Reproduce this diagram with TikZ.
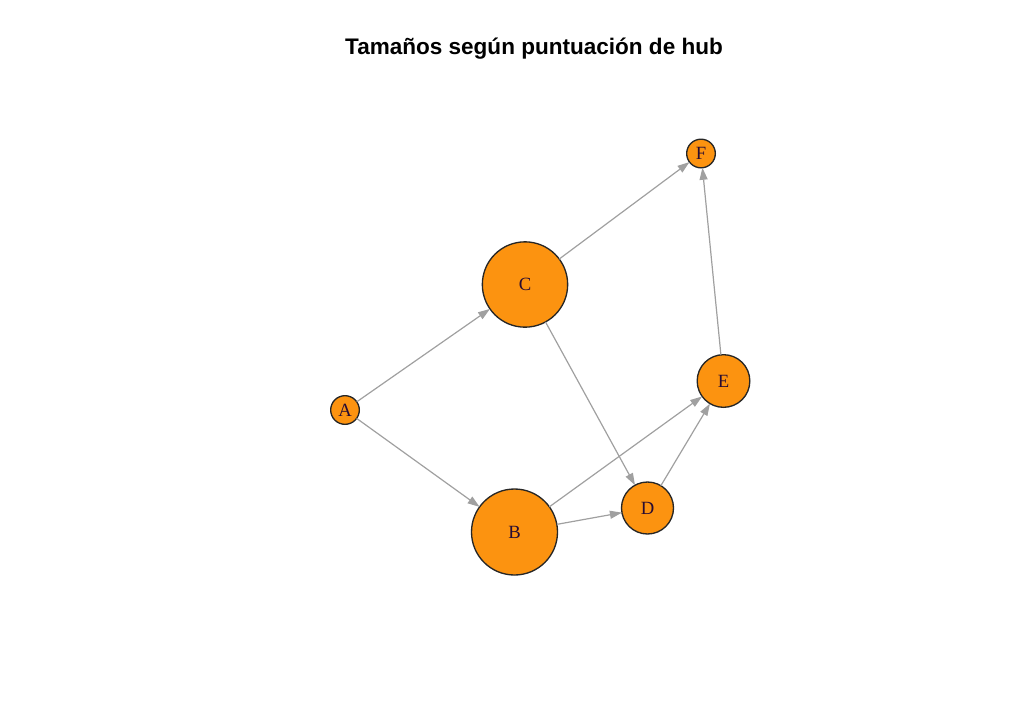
\documentclass[tikz,border=0pt]{standalone}
\usepackage{fontspec}
\setmainfont{Liberation Serif}
\newfontfamily\titlefont{Liberation Sans}
\usetikzlibrary{arrows.meta}
\definecolor{hubfill}{RGB}{252,147,16}
\definecolor{hubedge}{RGB}{160,160,160}
\definecolor{hublabel}{RGB}{40,12,50}

\begin{document}
\begin{tikzpicture}[x=0.75pt,y=-0.75pt,
  every node/.style={circle, draw=black!85, line width=1pt, fill=hubfill, text=hublabel, inner sep=0pt, outer sep=0pt, font=\fontsize{14}{15}\selectfont},
  hubarrow/.style={draw=hubedge, line width=0.9pt, -{Triangle[length=9pt,width=6pt]}}]
\useasboundingbox (0,0) rectangle (1024,708);

\node[draw=none, fill=none, text=black, font=\titlefont\bfseries\fontsize{16.9}{19}\selectfont] (title) at (534,48.5) {Tamaños según puntuación de hub};

\node[minimum size=21.5pt] (A) at (345,410) {A};
\node[minimum size=64.5pt] (B) at (514.5,532) {B};
\node[minimum size=64pt] (C) at (525,284.5) {C};
\node[minimum size=39pt] (D) at (647.5,508) {D};
\node[minimum size=39.5pt] (E) at (723.5,381) {E};
\node[minimum size=21.5pt] (F) at (701,153.5) {F};

\draw[hubarrow] (A) -- (C);
\draw[hubarrow] (A) -- (B);
\draw[hubarrow] (C) -- (F);
\draw[hubarrow] (C) -- (D);
\draw[hubarrow] (B) -- (D);
\draw[hubarrow] (B) -- (E);
\draw[hubarrow] (D) -- (E);
\draw[hubarrow] (E) -- (F);
\end{tikzpicture}
\end{document}
